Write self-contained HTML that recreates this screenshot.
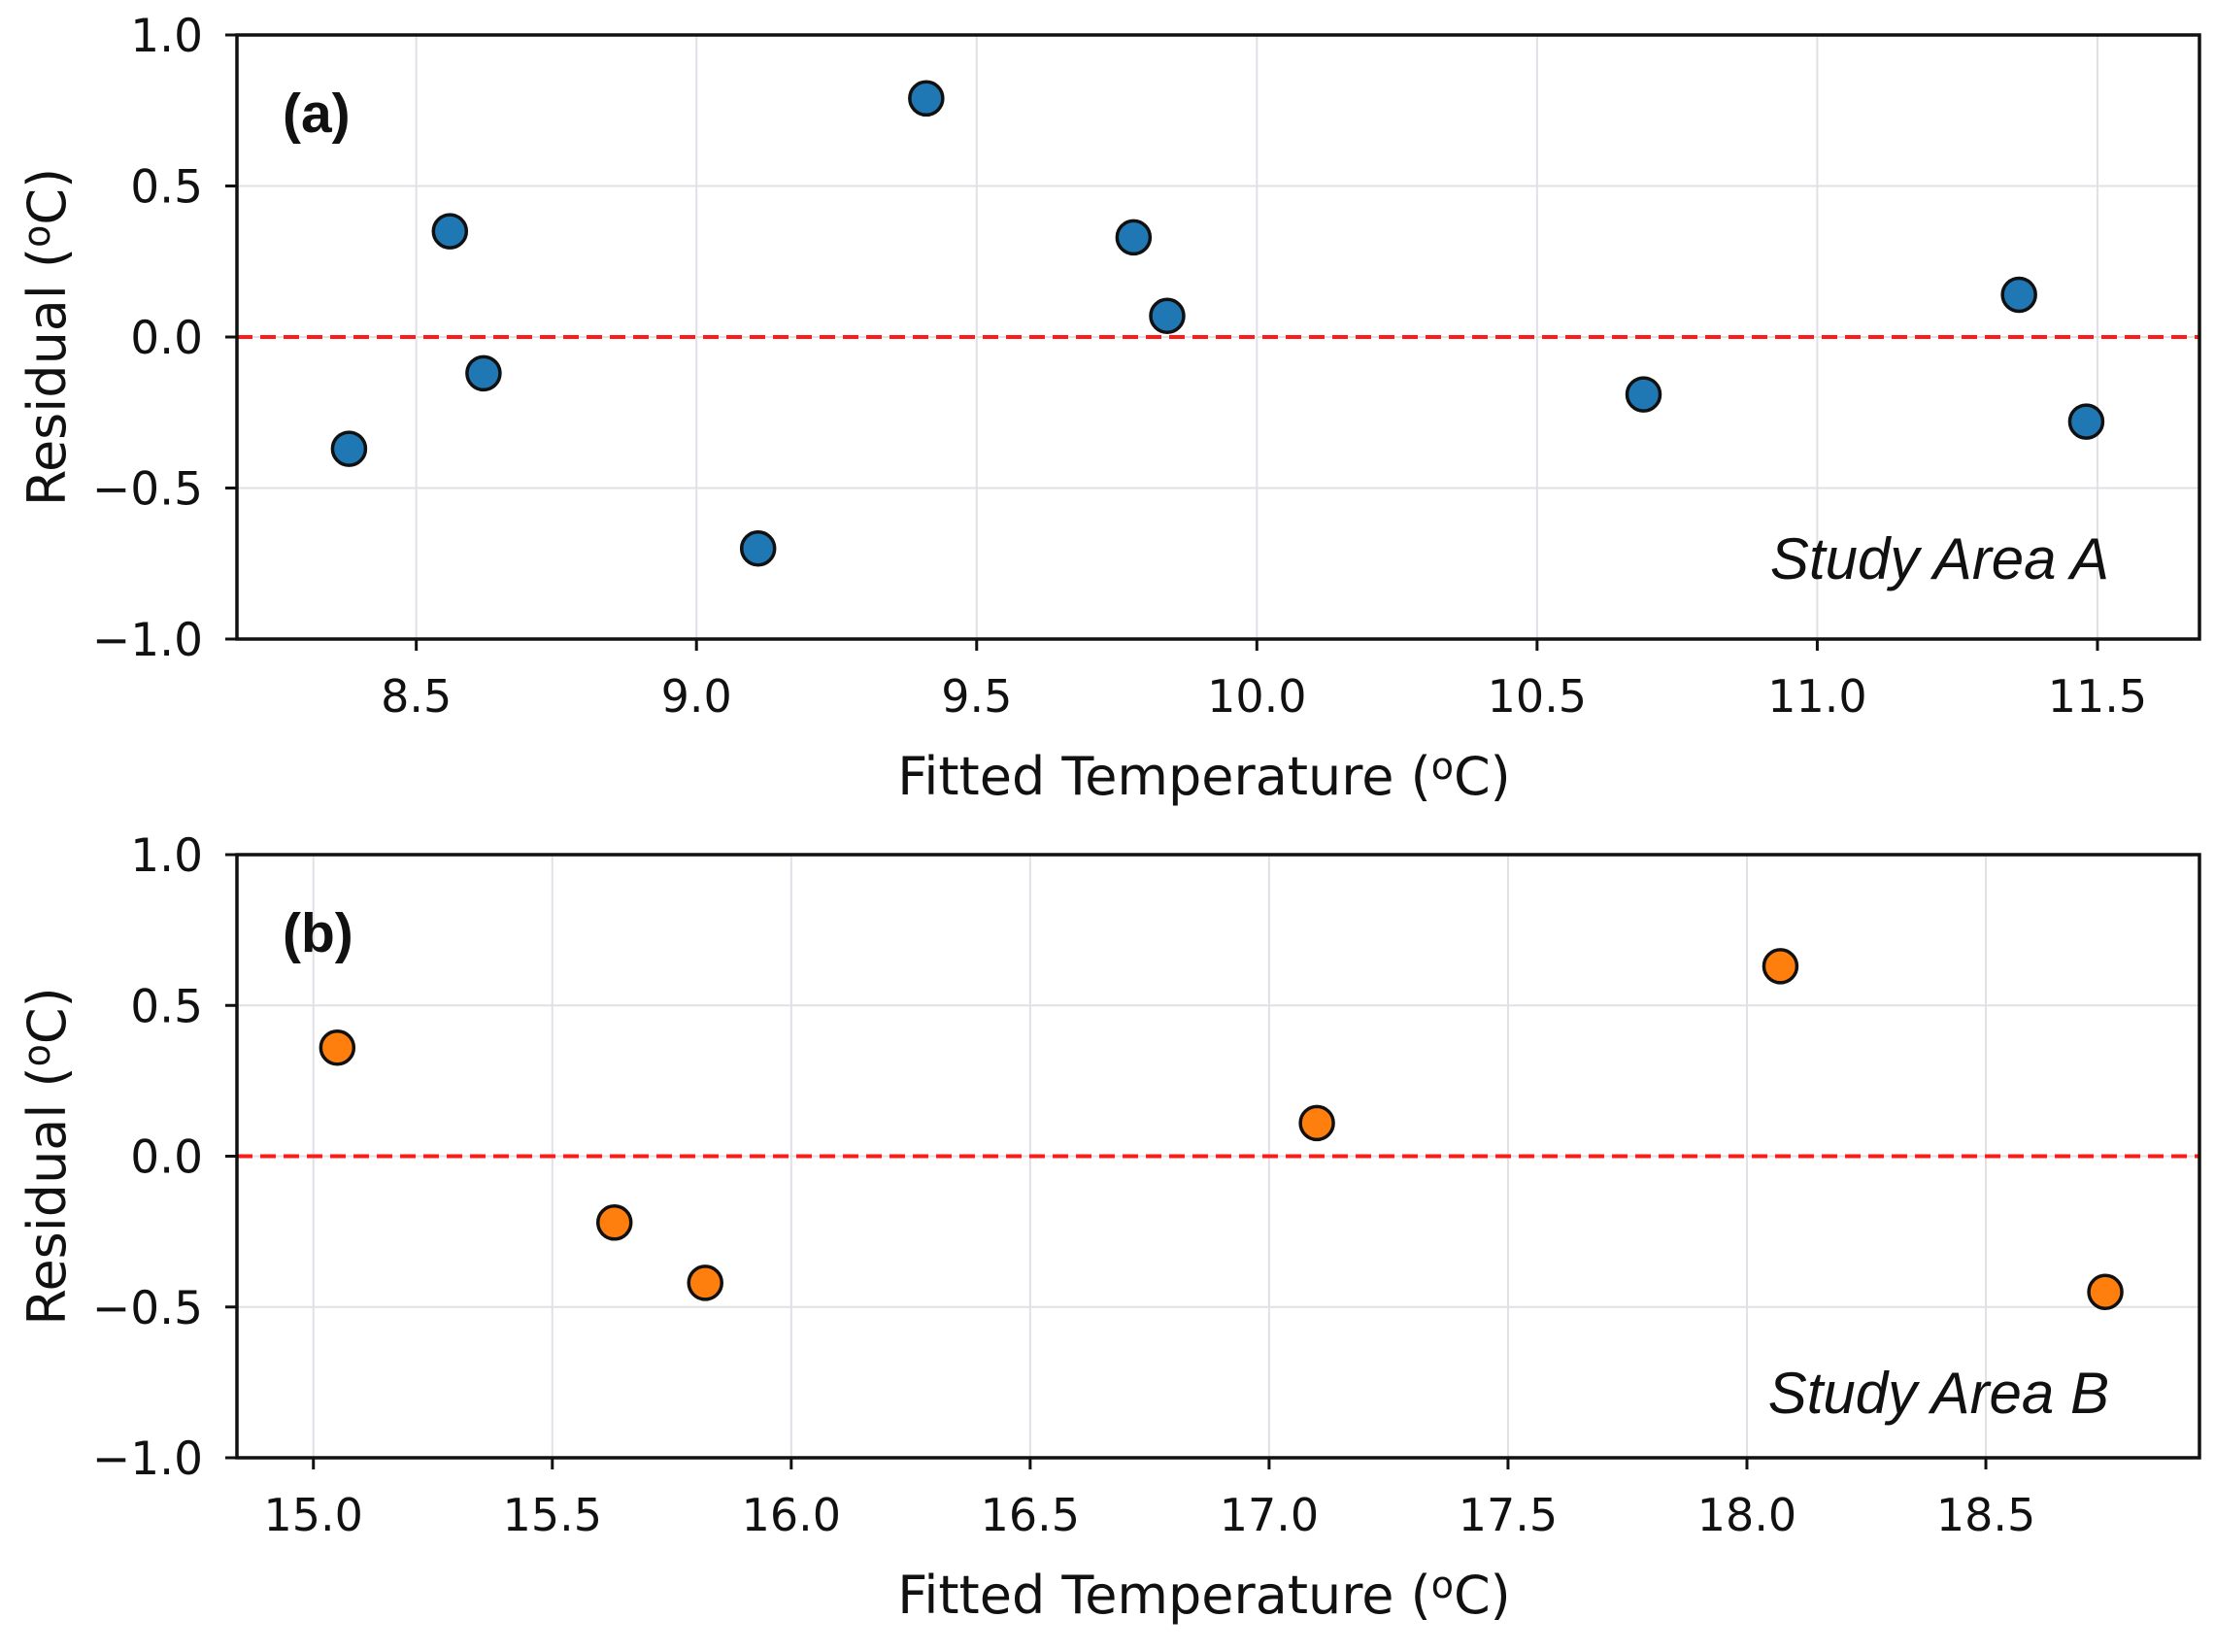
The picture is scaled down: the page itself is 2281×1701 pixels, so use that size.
<!DOCTYPE html>
<html><head><meta charset="utf-8"><style>
html,body{margin:0;padding:0;background:#fff}
svg text{font-family:"DejaVu Sans","Liberation Sans",sans-serif;fill:#111}
svg text.lib{font-family:"Liberation Sans","DejaVu Sans",sans-serif}
</style></head><body>
<svg id="chart" width="2281" height="1696" xmlns="http://www.w3.org/2000/svg"></svg>
<script>
const xA = [8.38, 8.56, 8.62, 9.11, 9.41, 9.78, 9.84, 10.69, 11.36, 11.48];
const yA = [-0.37, 0.35, -0.12, -0.70, 0.79, 0.33, 0.07, -0.19, 0.14, -0.28];
const xB = [15.05, 15.63, 15.82, 17.10, 18.07, 18.75];
const yB = [0.36, -0.22, -0.42, 0.11, 0.63, -0.45];
const xTicksA = ["8.5", "9.0", "9.5", "10.0", "10.5", "11.0", "11.5"];
const xTicksB = ["15.0", "15.5", "16.0", "16.5", "17.0", "17.5", "18.0", "18.5"];
const yTicks = ["1.0", "0.5", "0.0", "−0.5", "−1.0"];

const NS = "http://www.w3.org/2000/svg";
const svg = document.getElementById("chart");
function mk(tag, attrs, parent, txt){
  const e = document.createElementNS(NS, tag);
  for (const k in attrs) e.setAttribute(k, attrs[k]);
  if (txt !== undefined) e.textContent = txt;
  (parent || svg).appendChild(e);
  return e;
}
function panel(cfg){
  const g = mk("g", {});
  
  
  const L = 244, R = 2265, T = cfg.top, B = cfg.bottom;
  const sx = v => L + (v - cfg.xmin) / (cfg.xmax - cfg.xmin) * (R - L);
  const sy = v => T + (1 - v) / 2 * (B - T);
  cfg.xt.forEach(t => {
    const x = sx(parseFloat(t));
    const gl = mk("line", {x1:x, x2:x, y1:T, y2:B, stroke:"#e0e0e6", "stroke-width":2}, g);
    
    
    const tk = mk("line", {x1:x, x2:x, y1:B, y2:B+12, stroke:"#111", "stroke-width":3}, g);
    
    
    const tl = mk("text", {x:x, y:B+75, "text-anchor":"middle", "font-size":46}, g, t);
    
    
  });
  yTicks.forEach(t => {
    const y = sy(parseFloat(t.replace("−","-")));
    const gl = mk("line", {x1:L, x2:R, y1:y, y2:y, stroke:"#e0e0e6", "stroke-width":2}, g);
    
    
    const tk = mk("line", {x1:L-12, x2:L, y1:y, y2:y, stroke:"#111", "stroke-width":3}, g);
    
    
    const tl = mk("text", {x:L-35, y:y+17, "text-anchor":"end", "font-size":47}, g, t);
    
    
  });
  const zl = mk("line", {x1:L, x2:R, y1:sy(0), y2:sy(0), stroke:"#ff1a1a", "stroke-width":4, "stroke-dasharray":"16,8"}, g);
  
  
  const fr = mk("rect", {x:L, y:T, width:R-L, height:B-T, fill:"none", stroke:"#111", "stroke-width":3.5}, g);
  
  
  cfg.xs.forEach((v, i) => {
    const c = mk("circle", {cx:sx(v), cy:sy(cfg.ys[i]), r:17, fill:cfg.color, stroke:"#111", "stroke-width":3.5}, g);
    
    
  });
  const pl = mk("text", {x:291, y:T+100, "font-size":57, "font-weight":"bold", class:"lib"}, g, cfg.label);
  
  
  const an = mk("text", {x:2172, y:B-cfg.areaOff, "text-anchor":"end", "font-size":60, "font-style":"italic", class:"lib"}, g, cfg.area);
  
  
  const xl = mk("text", {x:1240, y:B+160, "text-anchor":"middle", "font-size":54}, g);
  
  
  xl.innerHTML = 'Fitted Temperature (<tspan font-size="38" dy="-16">o</tspan><tspan dy="16">C)</tspan>';
  const yl = mk("text", {x:0, y:0, "text-anchor":"middle", "font-size":54, transform:`translate(67,${(T+B)/2}) rotate(-90)`}, g);
  
  
  yl.innerHTML = 'Residual (<tspan font-size="38" dy="-16">o</tspan><tspan dy="16">C)</tspan>';
}
panel({name:"panel-a", top:36, bottom:658, xmin:8.180, xmax:11.682, xt:xTicksA, xs:xA, ys:yA, color:"#1f77b4", label:"(a)", area:"Study Area A", areaOff:62});
panel({name:"panel-b", top:880, bottom:1501, xmin:14.84, xmax:18.947, xt:xTicksB, xs:xB, ys:yB, color:"#ff7f0e", label:"(b)", area:"Study Area B", areaOff:46});
</script>
</body></html>
